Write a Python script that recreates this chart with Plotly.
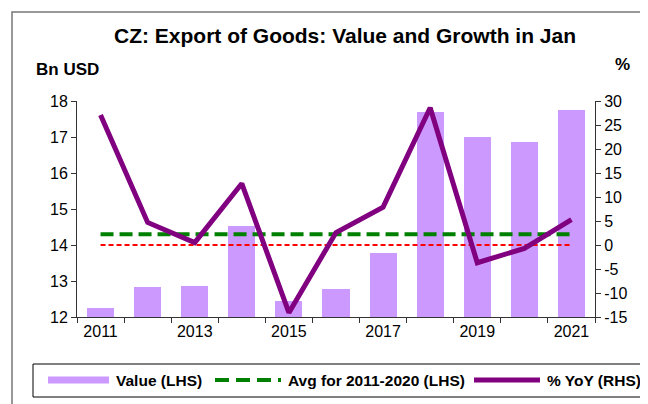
import plotly.graph_objects as go

years = [2011, 2012, 2013, 2014, 2015, 2016, 2017, 2018, 2019, 2020, 2021]
value_bn_usd = [12.25, 12.83, 12.87, 14.52, 12.45, 12.77, 13.77, 17.70, 17.00, 16.85, 17.75]
yoy_pct = [27.1, 4.7, 0.5, 12.8, -14.1, 2.6, 7.9, 28.6, -3.7, -0.7, 5.3]
avg_2011_2020 = 14.3
zero_pct = 0
label_years = [2011, 2013, 2015, 2017, 2019, 2021]
year_labels = ["2011", "2013", "2015", "2017", "2019", "2021"]
left_ticks = [12, 13, 14, 15, 16, 17, 18]
right_ticks = [-15, -10, -5, 0, 5, 10, 15, 20, 25, 30]
right_tick_labels = ["-15", "-10", "-5", "0", "5", "10", "15", "20", "25", "30"]
legend_names = ["Value (LHS)", "Avg for 2011-2020 (LHS)", "% YoY (RHS)"]

FONT = "Liberation Sans, Arial, sans-serif"
W, H = 648, 404
L, R, T, B = 69, 61, 93, 95
PW, PH = W - L - R, H - T - B

PURPLE = "#800080"
LAVENDER = "#CC99FF"
GREEN = "#008000"
RED = "#FF0000"


def px(xp):
    return (xp - L) / PW


def py(yp):
    return (H - B - yp) / PH


fig = go.Figure()

fig.add_trace(go.Bar(
    x=years, y=value_bn_usd, name=legend_names[0], width=0.575,
    marker=dict(color=LAVENDER, line=dict(width=0)), yaxis="y"))

fig.add_trace(go.Scatter(
    x=[years[0], years[-1]], y=[zero_pct, zero_pct], mode="lines",
    line=dict(color=RED, width=2, dash="5px,3px"),
    yaxis="y2", hoverinfo="skip"))

fig.add_trace(go.Scatter(
    x=[years[0], years[-1]], y=[avg_2011_2020, avg_2011_2020], mode="lines",
    name=legend_names[1],
    line=dict(color=GREEN, width=4, dash="13px,6px"), yaxis="y"))

fig.add_trace(go.Scatter(
    x=years, y=yoy_pct, mode="lines", name=legend_names[2],
    line=dict(color=PURPLE, width=5), yaxis="y2"))

axis_color = "#333333"

# manual legend (flat swatches as in the original)
leg_y = 372
legend_shapes = [
    dict(type="rect", xref="paper", yref="paper",
         x0=px(25), x1=px(640), y0=py(389), y1=py(356),
         line=dict(color="black", width=1), fillcolor="white", layer="above"),
    dict(type="line", xref="paper", yref="paper",
         x0=px(40), x1=px(101), y0=py(leg_y), y1=py(leg_y),
         line=dict(color=LAVENDER, width=7)),
    dict(type="line", xref="paper", yref="paper",
         x0=px(207), x1=px(273), y0=py(leg_y), y1=py(leg_y),
         line=dict(color=GREEN, width=4, dash="14px,7px")),
    dict(type="line", xref="paper", yref="paper",
         x0=px(466), x1=px(532), y0=py(leg_y), y1=py(leg_y),
         line=dict(color=PURPLE, width=5)),
]
legend_text_x = [106, 278, 537]
legend_ann = [
    dict(text="<b>%s</b>" % name, xref="paper", yref="paper",
         x=px(tx), y=py(leg_y), xanchor="left", yanchor="middle",
         showarrow=False, font=dict(size=15.5, family=FONT, color="black"))
    for name, tx in zip(legend_names, legend_text_x)
]

fig.update_layout(
    width=W, height=H,
    margin=dict(l=L, r=R, t=T, b=B, pad=0),
    paper_bgcolor="white", plot_bgcolor="white",
    font=dict(family=FONT, color="black", size=16),
    showlegend=False,
    title=dict(text="<b>CZ: Export of Goods: Value and Growth in Jan</b>",
               x=337 / W, xanchor="center", xref="container",
               y=1 - 28 / H, yanchor="middle", yref="container",
               font=dict(size=21, family=FONT, color="black")),
    bargap=0,
    xaxis=dict(range=[2010.5, 2021.5], tickvals=label_years, ticktext=year_labels,
               ticks="", showline=True, linecolor=axis_color, linewidth=1,
               showgrid=False, zeroline=False, tickfont=dict(size=16),
               minor=dict(tick0=2010.5, dtick=1, ticks="outside", ticklen=5,
                          tickcolor=axis_color, showgrid=False)),
    yaxis=dict(range=[12, 18], tickvals=left_ticks, ticks="outside", ticklen=5,
               tickcolor=axis_color, showline=True, linecolor=axis_color,
               linewidth=1, showgrid=False, zeroline=False,
               tickfont=dict(size=16)),
    yaxis2=dict(range=[-15, 30], tickvals=right_ticks, ticktext=right_tick_labels,
                ticks="outside", ticklen=5,
                tickcolor=axis_color, showline=True, linecolor=axis_color,
                linewidth=1, showgrid=False, zeroline=False, overlaying="y",
                side="right", tickfont=dict(size=16)),
    annotations=[
        dict(text="<b>Bn USD</b>", xref="paper", yref="paper",
             x=px(26), y=py(62),
             xanchor="left", yanchor="middle", showarrow=False,
             font=dict(size=17, family=FONT)),
        dict(text="<b>%</b>", xref="paper", yref="paper",
             x=px(614), y=py(56),
             xanchor="center", yanchor="middle", showarrow=False,
             font=dict(size=17, family=FONT)),
    ] + legend_ann,
    shapes=[dict(type="rect", xref="paper", yref="paper",
                 x0=px(4), x1=px(652), y0=py(408), y1=py(4),
                 line=dict(color="#777777", width=1.5), layer="below")]
    + legend_shapes,
)

fig.write_html("out.html")
